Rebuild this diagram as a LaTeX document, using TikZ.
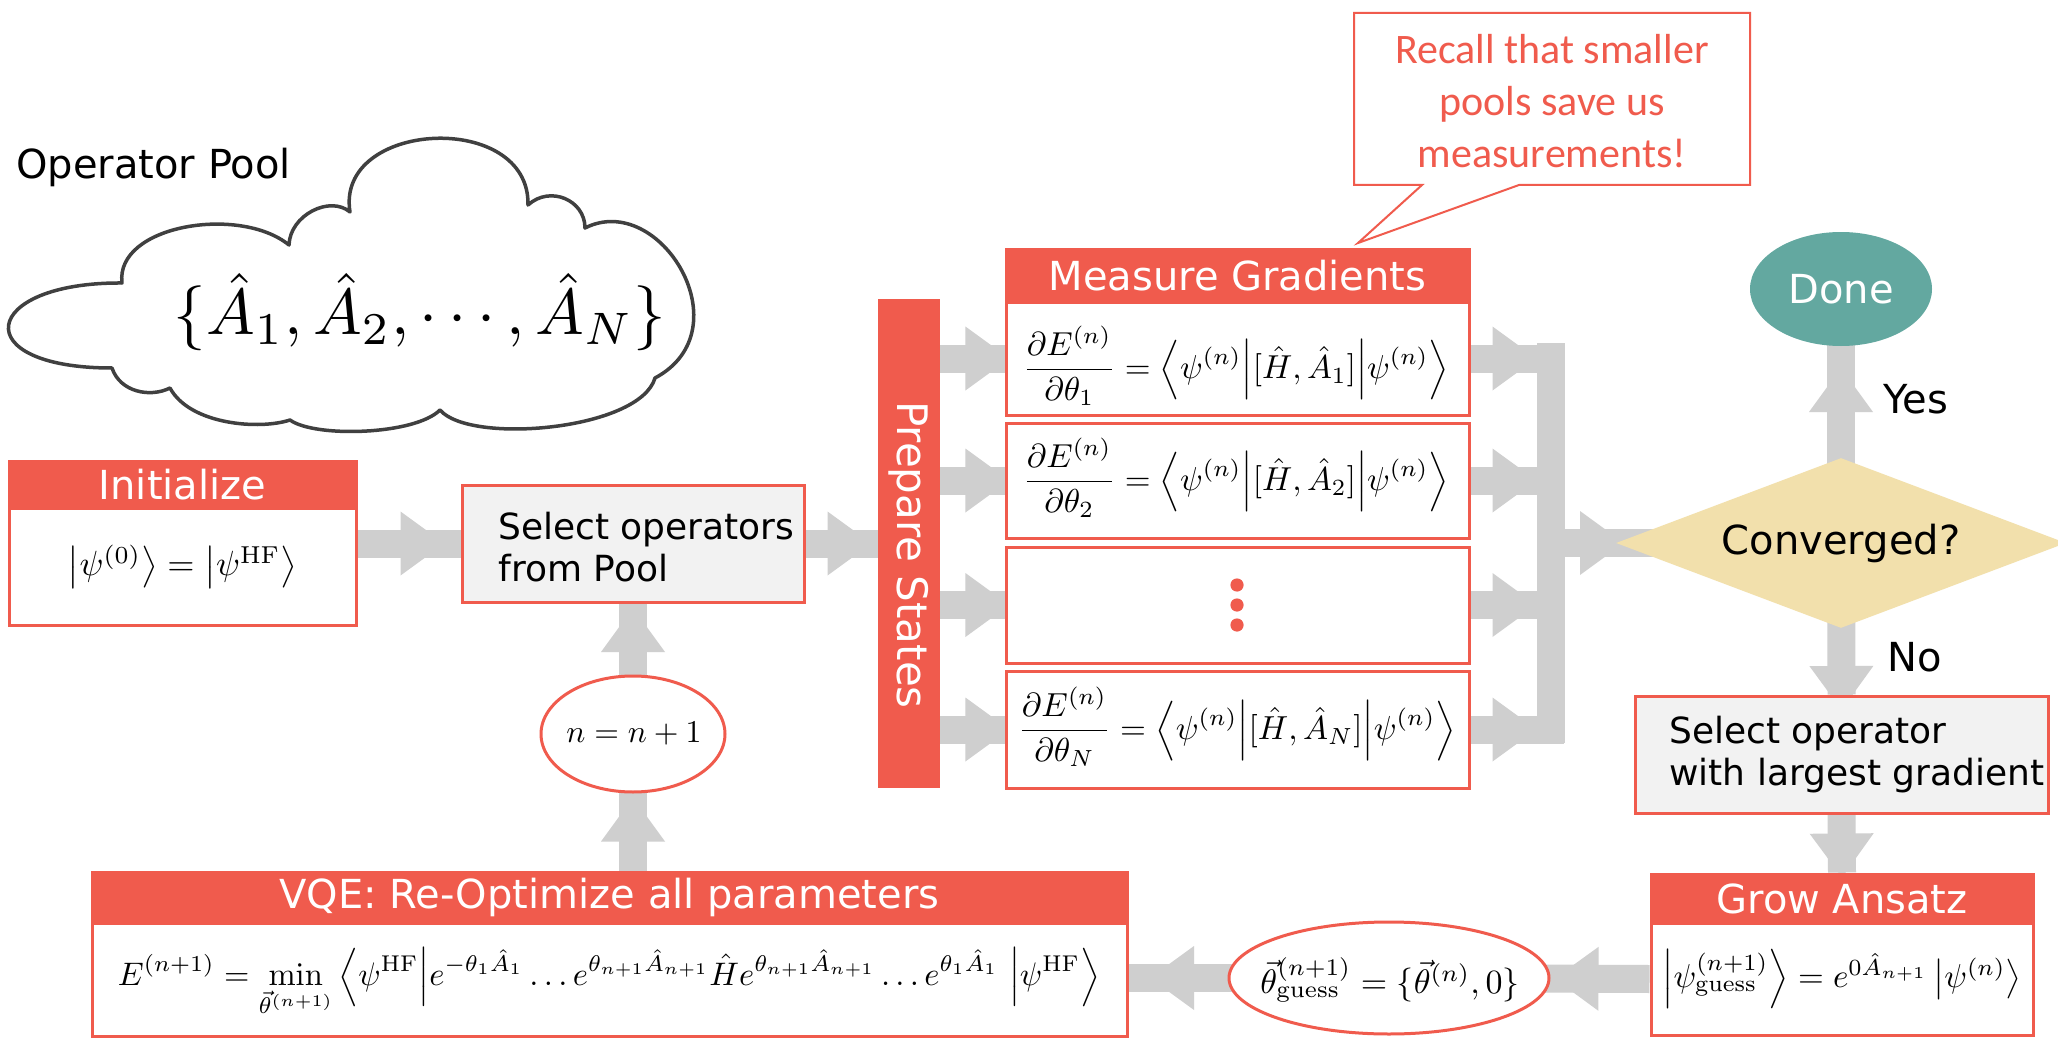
\documentclass[tikz,border=0pt]{standalone}
\usepackage[no-math]{fontspec}
\setmainfont{DejaVu Sans}
\newfontfamily\calloutfont{Carlito}
\usepackage{graphicx}
\usetikzlibrary{shapes.geometric,decorations.markings}
\definecolor{myred}{RGB}{240,91,77}
\definecolor{agray}{RGB}{207,207,207}
\definecolor{boxgray}{RGB}{242,242,242}
\definecolor{wheat}{RGB}{242,224,172}
\definecolor{doneteal}{RGB}{99,168,160}
\definecolor{cloudline}{RGB}{64,64,64}
\pgfdeclarelayer{bg}
\pgfsetlayers{bg,main}
\tikzset{
  hdr/.style={fill=myred, draw=myred, line width=1.5pt, text=white, font=\fontsize{20}{24}\selectfont, inner sep=0pt},
  bodybox/.style={fill=white, draw=myred, line width=1.5pt, inner sep=0pt},
  graybox/.style={fill=boxgray, draw=myred, line width=1.5pt, inner sep=0pt},
  lbl/.style={font=\fontsize{18}{21}\selectfont, align=left, inner sep=0pt},
  bigtxt/.style={font=\fontsize{20}{24}\selectfont, inner sep=0pt},
  ring/.style={ellipse, draw=myred, line width=1.5pt, fill=white, inner sep=0pt},
  garrow/.style={draw=agray, line width=14pt, postaction={decorate},
    decoration={markings, mark=at position #1 with {\fill[agray] (0pt,16pt) -- (22pt,0pt) -- (0pt,-16pt) -- cycle;}}},
  gline/.style={draw=agray, line width=14pt},
  cloudpath/.style={draw=cloudline, line width=1.75pt, fill=white, line join=round},
}
\begin{document}
\begin{tikzpicture}[x=0.5pt,y=-0.5pt]
\useasboundingbox (0,0) rectangle (2058,1038);
\begin{pgfonlayer}{bg}
\fill[white] (0,0) rectangle (2058,1038);
\end{pgfonlayer}

% Operator pool (cloud)
\draw[cloudpath] (112,368)
  .. controls (-35,368) and (-20,282) .. (122,283)
  .. controls (115,225) and (240,205) .. (289,245)
  .. controls (290,215) and (330,195) .. (350,212)
  .. controls (335,120) and (530,110) .. (528,205)
  .. controls (550,185) and (585,200) .. (585,228)
  .. controls (660,190) and (745,330) .. (655,378)
  .. controls (640,430) and (470,445) .. (440,410)
  .. controls (415,435) and (315,438) .. (290,420)
  .. controls (260,430) and (190,425) .. (170,388)
  .. controls (150,398) and (120,392) .. (112,368) -- cycle;
\node[anchor=base west, bigtxt] (pooltitle) at (16,178) {Operator Pool};
\node (pooltxt) at (420,312) {\resizebox{246pt}{!}{$\{\hat{A}_1,\hat{A}_2,\cdots,\hat{A}_N\}$}};

% Initialize
\node[hdr, minimum width=173.5pt, minimum height=23.5pt] (inith) at (182.5,484.5) {Initialize};
\node[bodybox, minimum width=173.5pt, minimum height=58.5pt] (initb) at (182.5,566.5)
  {\resizebox{114.5pt}{!}{$\left|\psi^{(0)}\right\rangle = \left|\psi^{\mathrm{HF}}\right\rangle$}};

% Select operators from pool
\node[graybox, minimum width=171pt, minimum height=58.5pt] (sel) at (633,543.5) {};
\node[lbl, anchor=west] (seltxt) at (498,547) {Select operators\\from Pool};

% Prepare states
\node[fill=myred, minimum width=31pt, minimum height=244.5pt, inner sep=0pt] (prep) at (909,543.5) {};
\node[text=white, rotate=-90, font=\fontsize{21}{24}\selectfont, inner sep=0pt] (preptxt) at (909,555) {Prepare States};

% Measure gradients
\node[hdr, minimum width=231.5pt, minimum height=26.5pt] (mgh) at (1237.5,275.5) {Measure Gradients};
\node[bodybox, minimum width=231.5pt, minimum height=56.5pt] (b1) at (1237.5,358.5) {};
\node[bodybox, minimum width=231.5pt, minimum height=57.5pt] (b2) at (1237.5,480.5) {};
\node[bodybox, minimum width=231.5pt, minimum height=58pt] (b3) at (1237.5,605) {};
\node[bodybox, minimum width=231.5pt, minimum height=58.5pt] (b4) at (1237.5,729.5) {};
\node (f1) at (1236,366) {\resizebox{213pt}{!}{$\displaystyle \frac{\partial E^{(n)}}{\partial\theta_1} = \left\langle\psi^{(n)}\middle|[\hat{H},\hat{A}_1]\middle|\psi^{(n)}\right\rangle$}};
\node (f2) at (1236,478) {\resizebox{213pt}{!}{$\displaystyle \frac{\partial E^{(n)}}{\partial\theta_2} = \left\langle\psi^{(n)}\middle|[\hat{H},\hat{A}_2]\middle|\psi^{(n)}\right\rangle$}};
\node (f4) at (1237,727) {\resizebox{219pt}{!}{$\displaystyle \frac{\partial E^{(n)}}{\partial\theta_N} = \left\langle\psi^{(n)}\middle|[\hat{H},\hat{A}_N]\middle|\psi^{(n)}\right\rangle$}};
\fill[myred] (1237,585) circle (3.3pt) (1237,605) circle (3.3pt) (1237,625) circle (3.3pt);

% Callout
\draw[myred, line width=1pt, fill=white] (1354,13) -- (1750,13) -- (1750,185) -- (1519,185)
  -- (1358,243) -- (1422,185) -- (1354,185) -- cycle;
\node[text=myred, font=\calloutfont\fontsize{21}{26}\selectfont, align=center, inner sep=0pt] (callout) at (1552,101)
  {Recall that smaller\\pools save us\\measurements!};

% Decision
\node[diamond, aspect=2.65, fill=wheat, minimum width=225pt, minimum height=85pt, inner sep=0pt,
  font=\fontsize{20}{24}\selectfont] (conv) at (1841,543) {Converged?};
\node[ellipse, fill=doneteal, minimum width=91pt, minimum height=57pt, text=white,
  font=\fontsize{20}{24}\selectfont, inner sep=0pt] (done) at (1841,289) {Done};
\node[anchor=base west, bigtxt] (yes) at (1883,413) {Yes};
\node[anchor=base west, bigtxt] (no) at (1887,671) {No};

% Select operator with largest gradient
\node[graybox, minimum width=206.5pt, minimum height=58.5pt] (selop) at (1841.5,754.5) {};
\node[lbl, anchor=west] (selopt) at (1669,755) {Select operator\\with largest gradient};

% Grow ansatz
\node[hdr, minimum width=191pt, minimum height=24.5pt] (growh) at (1842,898.5) {Grow Ansatz};
\node[bodybox, minimum width=191pt, minimum height=56pt] (growb) at (1842,979)
  {\resizebox{179.5pt}{!}{$\left|\psi^{(n+1)}_{\mathrm{guess}}\right\rangle = e^{0\hat{A}_{n+1}}\left|\psi^{(n)}\right\rangle$}};

% theta guess
\node[ring, minimum width=160pt, minimum height=56pt] (theta) at (1389,978) {};
\node (thetat) at (1390,980) {\resizebox{129.5pt}{!}{$\vec{\theta}^{(n+1)}_{\mathrm{guess}} = \{\vec{\theta}^{(n)},0\}$}};

% VQE
\node[hdr, minimum width=517.5pt, minimum height=25.5pt] (vqeh) at (609.5,897.5) {VQE: Re-Optimize all parameters};
\node[bodybox, minimum width=517.5pt, minimum height=56.5pt] (vqeb) at (609.5,979.5) {};
\node (vqef) at (609,982) {\resizebox{491pt}{!}{$\displaystyle E^{(n+1)} = \min_{\vec{\theta}^{(n+1)}} \left\langle\psi^{\mathrm{HF}}\middle| e^{-\theta_1\hat{A}_1}\dots e^{\theta_{n+1}\hat{A}_{n+1}}\hat{H}e^{\theta_{n+1}\hat{A}_{n+1}}\dots e^{\theta_1\hat{A}_1}\ \middle|\psi^{\mathrm{HF}}\right\rangle$}};

% n = n+1
\node[ring, minimum width=92pt, minimum height=58pt] (nn) at (633,734) {};
\node (nnt) at (634,734) {\resizebox{67.5pt}{!}{$n = n+1$}};

% bus coordinates
\coordinate (busR) at (1564,543);
\coordinate (busT) at (1550.5,343);
\coordinate (busB) at (1550.5,743);

% connectors
\begin{pgfonlayer}{bg}
\draw[garrow=21.5pt] (initb.east |- sel.west) -- (sel.west);
\draw[garrow=11pt] (sel.east) -- (prep.west |- sel.east);
\foreach \b in {b1,b2,b3,b4}{
  \draw[garrow=12.5pt] (prep.east |- \b.west) -- (\b.west);
  \draw[garrow=11pt] (\b.east) -- (busR |- \b.east);
}
\draw[gline] (busT) -- (busB);
\draw[garrow=8pt] (busR) -- (conv.center);
\draw[garrow=65.5pt] (conv.center) -- (done.center);
\draw[garrow=61.5pt] (conv.center) -- (selop.north);
\draw[garrow=9.5pt] (selop.south) -- (growh.north);
\draw[garrow=25.5pt] (growb.west) -- (theta.center);
\draw[garrow=97.5pt] (theta.center) -- (vqeb.east |- theta.center);
\draw[garrow=14.5pt] (nn.center |- vqeh.north) -- (nn.center);
\draw[garrow=41pt] (nn.center) -- (sel.south);
\end{pgfonlayer}
\end{tikzpicture}
\end{document}
